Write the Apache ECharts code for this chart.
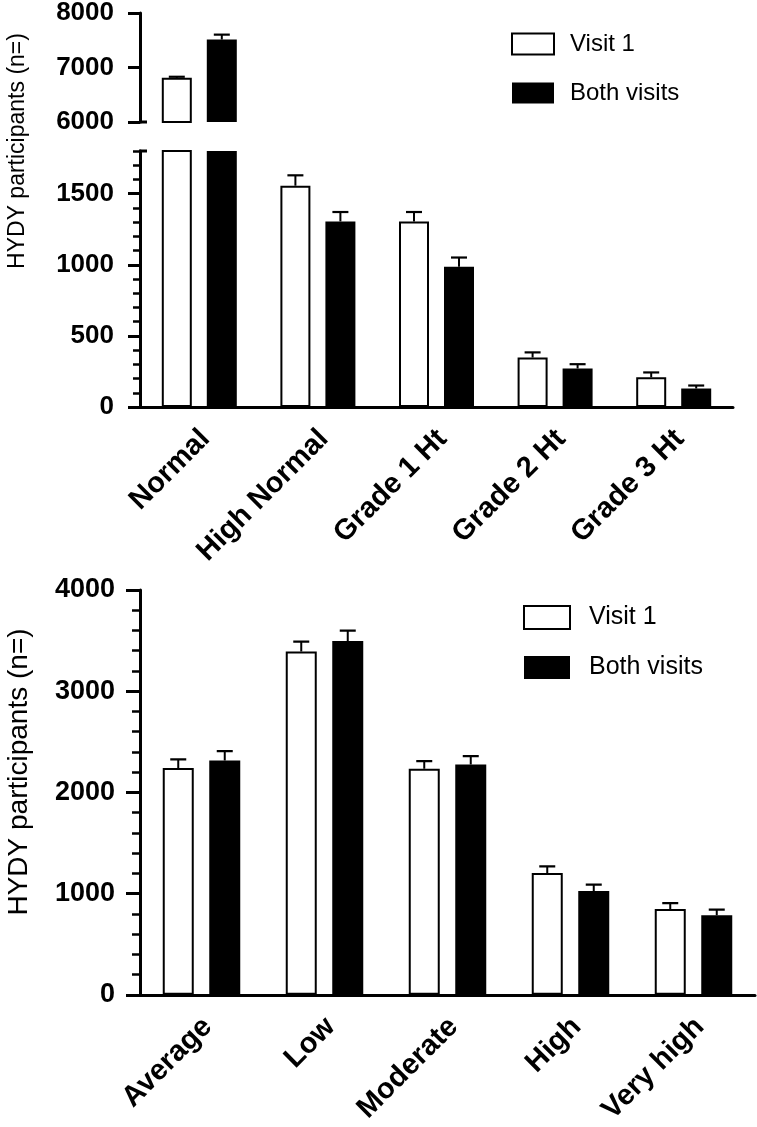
<!DOCTYPE html>
<html>
<head>
<meta charset="utf-8">
<script src="https://cdn.jsdelivr.net/npm/echarts@6/dist/echarts.min.js"></script>
<style>
html,body{margin:0;padding:0;background:#fff;}
#chart{width:757px;height:1127px;}
</style>
</head>
<body>
<div id="chart"></div>
<script>
// ---- data ----
const categoriesTop = ['Normal', 'High Normal', 'Grade 1 Ht', 'Grade 2 Ht', 'Grade 3 Ht'];
const visit1Top = [6810, 1556, 1305, 348, 209];
const visit1TopErr = [20, 73, 66, 36, 34];
const bothTop = [7513, 1305, 987, 271, 130];
const bothTopErr = [90, 66, 64, 30, 21];

const categoriesBottom = ['Average', 'Low', 'Moderate', 'High', 'Very high'];
const visit1Bottom = [2242, 3392, 2235, 1203, 848];
const visit1BottomErr = [84, 98, 75, 66, 59];
const bothBottom = [2316, 3497, 2277, 1027, 786];
const bothBottomErr = [92, 101, 82, 62, 55];

const seriesNames = ['Visit 1', 'Both visits'];
const yTitle = 'HYDY participants (n=)';

// axis ranges (break in top panel)
const topUpperRange = [6000, 8000];
const topLowerRange = [0, 1800];
const bottomRange = [0, 4000];

// ---- chart ----
const FONT = '"Liberation Sans", Arial, Helvetica, sans-serif';
const chart = echarts.init(document.getElementById('chart'), null, {renderer: 'canvas'});

function errSeries(name, vals, errs, xi, yi, offset, lo, hi) {
  const data = vals.map((v, i) => (v >= lo && v <= hi) ? [i, v, errs[i]] : [i, '-', '-']);
  return {
    type: 'custom', name: name, xAxisIndex: xi, yAxisIndex: yi,
    clip: true, z: 5, silent: true,
    encode: {x: 0, y: 1},
    data: data,
    renderItem: function (params, api) {
      const v = api.value(1), e = api.value(2);
      if (isNaN(v)) return null;
      const i = api.value(0);
      const p1 = api.coord([i, v]);
      const p2 = api.coord([i, v + e]);
      const x = p1[0] + offset;
      return {
        type: 'group',
        children: [
          {type: 'line', shape: {x1: x, y1: p1[1], x2: x, y2: p2[1]}, style: {stroke: '#000', lineWidth: 2}},
          {type: 'line', shape: {x1: x - 8, y1: p2[1], x2: x + 8, y2: p2[1]}, style: {stroke: '#000', lineWidth: 2.2}}
        ]
      };
    }
  };
}

const whiteStyle = {color: '#fff', borderColor: '#000', borderWidth: 2};
const blackStyle = {color: '#000', borderColor: '#000', borderWidth: 0};

function barSeries(name, vals, xi, yi, style, bw, filterLo) {
  return {
    type: 'bar', name: name, xAxisIndex: xi, yAxisIndex: yi,
    data: vals.map(v => (filterLo != null && v < filterLo) ? '-' : v),
    barWidth: bw, barGap: '50%', itemStyle: style, clip: true, silent: true
  };
}

const catLabel = (size, margin) => ({
  rotate: 45, fontSize: size, fontWeight: 'bold', color: '#000', fontFamily: FONT,
  margin: margin, interval: 0, align: 'right', verticalAlign: 'top', padding: [0, 6, 0, 0]
});

const plain = v => String(v);
const yLab = (size, margin) => ({fontSize: size, fontWeight: 'bold', color: '#000', fontFamily: FONT, margin: margin, formatter: plain});

const option = {
  animation: false,
  backgroundColor: '#fff',
  grid: [
    {left: 140, right: 24, top: 11, height: 111},
    {left: 140, right: 24, top: 151, height: 256},
    {left: 140, right: 2, top: 590, height: 409}
  ],
  xAxis: [
    {type: 'category', gridIndex: 0, data: categoriesTop, show: false},
    {type: 'category', gridIndex: 1, data: categoriesTop,
      axisLine: {lineStyle: {color: '#000', width: 3}}, axisTick: {show: false}, axisLabel: catLabel(29, 13)},
    {type: 'category', gridIndex: 2, data: categoriesBottom,
      axisLine: {lineStyle: {color: '#000', width: 3}}, axisTick: {show: false}, axisLabel: catLabel(29, 13)}
  ],
  yAxis: [
    {type: 'value', gridIndex: 0, position: 'left', min: topUpperRange[0], max: topUpperRange[1], interval: 1000,
      axisLine: {show: true, lineStyle: {color: '#000', width: 3}},
      axisTick: {show: true, length: 12, lineStyle: {color: '#000', width: 3}},
      axisLabel: yLab(26, 26), splitLine: {show: false}},
    {type: 'value', gridIndex: 1, position: 'left', min: topLowerRange[0], max: topLowerRange[1], interval: 500,
      axisLine: {show: true, lineStyle: {color: '#000', width: 3}},
      axisTick: {show: true, length: 12, lineStyle: {color: '#000', width: 3}},
      axisLabel: Object.assign(yLab(26, 26), {showMaxLabel: false}), splitLine: {show: false}},
    {type: 'value', gridIndex: 1, position: 'left', min: topLowerRange[0], max: topLowerRange[1], interval: 100,
      axisLine: {show: false}, axisLabel: {show: false}, splitLine: {show: false},
      axisTick: {show: true, length: 7, lineStyle: {color: '#000', width: 2.5}}},
    {type: 'value', gridIndex: 2, position: 'left', min: bottomRange[0], max: bottomRange[1], interval: 1000,
      axisLine: {show: true, lineStyle: {color: '#000', width: 3}},
      axisTick: {show: true, length: 14, lineStyle: {color: '#000', width: 3}},
      axisLabel: yLab(27, 25), splitLine: {show: false}},
    {type: 'value', gridIndex: 2, position: 'left', min: bottomRange[0], max: bottomRange[1], interval: 200,
      axisLine: {show: false}, axisLabel: {show: false}, splitLine: {show: false},
      axisTick: {show: true, length: 8, lineStyle: {color: '#000', width: 2.5}}}
  ],
  legend: [
    {orient: 'vertical', left: 511, top: 32, padding: 0, itemWidth: 42, itemHeight: 21, itemGap: 25,
      selectedMode: false, icon: 'rect',
      textStyle: {fontSize: 24, fontFamily: FONT, color: '#000', lineHeight: 21, padding: [0, 0, 0, 11]},
      data: [{name: seriesNames[0], itemStyle: {color: '#fff', borderColor: '#000', borderWidth: 2}},
             {name: seriesNames[1], itemStyle: {color: '#000', borderColor: '#000', borderWidth: 0}}]},
    {orient: 'vertical', left: 523, top: 605, padding: 0, itemWidth: 46, itemHeight: 23, itemGap: 25,
      selectedMode: false, icon: 'rect',
      textStyle: {fontSize: 25, fontFamily: FONT, color: '#000', lineHeight: 23, padding: [0, 0, 0, 14]},
      data: [{name: seriesNames[0], itemStyle: {color: '#fff', borderColor: '#000', borderWidth: 2}},
             {name: seriesNames[1], itemStyle: {color: '#000', borderColor: '#000', borderWidth: 0}}]}
  ],
  series: [
    // top panel, upper segment
    barSeries(seriesNames[0], visit1Top, 0, 0, whiteStyle, 30, topUpperRange[0]),
    barSeries(seriesNames[1], bothTop, 0, 0, blackStyle, 30, topUpperRange[0]),
    errSeries(seriesNames[0], visit1Top, visit1TopErr, 0, 0, -22.5, topUpperRange[0], topUpperRange[1]),
    errSeries(seriesNames[1], bothTop, bothTopErr, 0, 0, 22.5, topUpperRange[0], topUpperRange[1]),
    // top panel, lower segment
    barSeries(seriesNames[0], visit1Top, 1, 1, whiteStyle, 30, null),
    barSeries(seriesNames[1], bothTop, 1, 1, blackStyle, 30, null),
    errSeries(seriesNames[0], visit1Top, visit1TopErr, 1, 1, -22.5, topLowerRange[0], topLowerRange[1]),
    errSeries(seriesNames[1], bothTop, bothTopErr, 1, 1, 22.5, topLowerRange[0], topLowerRange[1]),
    // bottom panel
    barSeries(seriesNames[0], visit1Bottom, 2, 3, whiteStyle, 31, null),
    barSeries(seriesNames[1], bothBottom, 2, 3, blackStyle, 31, null),
    errSeries(seriesNames[0], visit1Bottom, visit1BottomErr, 2, 3, -23.25, bottomRange[0], bottomRange[1]),
    errSeries(seriesNames[1], bothBottom, bothBottomErr, 2, 3, 23.25, bottomRange[0], bottomRange[1])
  ]
};
chart.setOption(option);

// axis-break caps and axis titles
const yBreakUpper = chart.convertToPixel({yAxisIndex: 0}, topUpperRange[0]);
const yBreakLower = chart.convertToPixel({yAxisIndex: 1}, topLowerRange[1]);
const gx = 140;
chart.setOption({
  graphic: [
    {type: 'line', shape: {x1: gx - 1, y1: yBreakUpper, x2: gx + 7, y2: yBreakUpper}, style: {stroke: '#000', lineWidth: 3}},
    {type: 'line', shape: {x1: gx - 1, y1: yBreakLower, x2: gx + 7, y2: yBreakLower}, style: {stroke: '#000', lineWidth: 3}},
    {type: 'text', x: 18, y: 151, rotation: Math.PI / 2,
      style: {text: yTitle, fontSize: 23, fontFamily: FONT, fill: '#000', align: 'center', verticalAlign: 'middle'}},
    {type: 'text', x: 19, y: 772, rotation: Math.PI / 2,
      style: {text: yTitle, fontSize: 28, fontFamily: FONT, fill: '#000', align: 'center', verticalAlign: 'middle'}}
  ]
});
</script>
</body>
</html>
